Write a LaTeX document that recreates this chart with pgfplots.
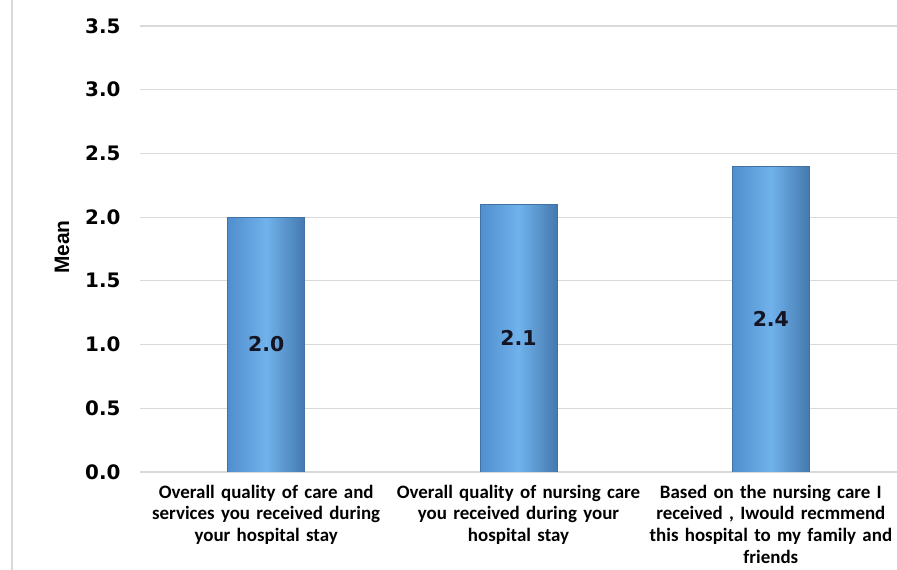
\documentclass[border=0pt]{standalone}
\usepackage{fontspec}
\setmainfont{DejaVu Sans}
\newfontfamily\calibri{Carlito}
\newfontfamily\arial{Liberation Sans}
\usepackage{pgfplots}
\pgfplotsset{compat=1.18}

\definecolor{barmid}{RGB}{112,178,235}
\definecolor{baredge}{RGB}{80,142,205}
\definecolor{gridc}{RGB}{217,217,217}
\definecolor{labc}{RGB}{20,20,35}

\pgfplotsset{
    meanbar/.style={ybar, bar width=77bp, draw=baredge!80!black, line width=0.4bp,
        left color=baredge, right color=baredge!85!black, middle color=barmid,
        visualization depends on=y \as \rawy,
        nodes near coords,
        nodes near coords style={font=\bfseries\fontsize{20.5}{22}\selectfont, text=labc,
            anchor=center, yshift={-\rawy*63.71bp},
            /pgf/number format/.cd, fixed, fixed zerofill, precision=1, assume math mode=true}},
}

\begin{document}
\begin{tikzpicture}[x=1bp,y=1bp]
\useasboundingbox (0,0) rectangle (897,570);
\draw[gridc, line width=1.5bp] (12,0) -- (12,570);
\begin{axis}[
    at={(140bp,98bp)}, anchor=south west,
    scale only axis,
    width=757bp, height=446bp,
    xmin=-0.5, xmax=2.5,
    ymin=0, ymax=3.5,
    ytick={0,0.5,...,3.5},
    xtick={0,1,2},
    xticklabels={
        {Overall quality of care and\\services you received during\\your hospital stay},
        {Overall quality of nursing care\\you received during your\\hospital stay},
        {Based on the nursing care I\\received , Iwould recmmend\\this hospital to my family and\\friends}},
    xticklabel style={font=\calibri\bfseries\fontsize{19}{21.6}\selectfont,
        align=center, text width=256bp, anchor=north, inner sep=0pt, yshift=-13bp},
    yticklabel style={xshift=-16bp, font=\bfseries\fontsize{20}{22}\selectfont,
        /pgf/number format/.cd, fixed, fixed zerofill, precision=1,
        assume math mode=true},
    ylabel={Mean},
    ylabel style={font=\arial\bfseries\fontsize{21}{22}\selectfont,
        at={(axis description cs:0,0.5)}, anchor=center, yshift=78bp, xshift=2bp},
    axis line style={draw=none},
    major tick length=0pt,
    ymajorgrids,
    grid style={gridc, line width=1.2bp},
]
\addplot[meanbar] coordinates {(0,2.0)};
\addplot[meanbar] coordinates {(1,2.1)};
\addplot[meanbar] coordinates {(2,2.4)};
\end{axis}
\end{tikzpicture}
\end{document}
